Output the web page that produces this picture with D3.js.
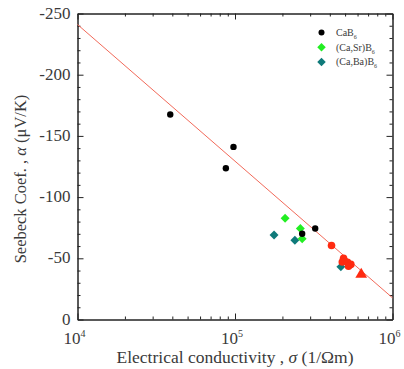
<!DOCTYPE html>
<html><head><meta charset="utf-8">
<script src="https://cdn.jsdelivr.net/npm/d3@7"></script>
<style>body{margin:0;background:#fff}svg{display:block}text{font-family:"Liberation Serif","Times New Roman",serif;fill:#3a3a3a}</style>
</head><body><svg id="c" width="404" height="369"></svg>
<script>
// Data
const caB6X = [3.88e4, 8.75e4, 9.78e4, 2.67e5, 3.23e5];
const caB6Y = [-167.5, -123.6, -141, -70, -74.3];
const caSrX = [2.08e5, 2.6e5, 2.67e5];
const caSrY = [-82.8, -74.3, -65.9];
const caBaX = [1.77e5, 2.4e5, 4.7e5];
const caBaY = [-69.1, -64.8, -43];
const otherX = [4.1e5, 4.89e5, 4.8e5, 5.18e5, 5.44e5, 5.26e5];
const otherY = [-60.4, -50, -47, -46.8, -45, -43.5];
const triX = [6.33e5];
const triY = [-36.8];
const fitX = [1e4, 1e6];
const fitY = [-241, -17.7];
const yTicks = [0, -50, -100, -150, -200, -250];
const xTickExps = [4, 5, 6];
const legendNames = ["CaB", "(Ca,Sr)B", "(Ca,Ba)B"];

const svg = d3.select("#c");
const L = 77.5, R = 392.5, T = 13.5, B = 319.5;
const x = d3.scaleLog().domain([1e4, 1e6]).range([L, R]);
const y = d3.scaleLinear().domain([0, -250]).range([B, T]);

const minorX = [];
for (let d = 1e4; d < 1e6; d *= 10) for (let k = 2; k <= 9; k++) minorX.push(k * d);
const minorY = d3.range(0, -251, -10).filter(v => v % 50 !== 0);

function styleAxis(g) {
  g.select(".domain").attr("stroke", "#222").attr("stroke-width", 1);
  g.selectAll(".tick line").attr("stroke", "#222");
  g.selectAll(".tick text").remove();
}
// bottom
svg.append("g").attr("transform", `translate(0,${B})`)
  .call(d3.axisBottom(x).tickValues(xTickExps.map(e => Math.pow(10, e))).tickSizeInner(-6).tickSizeOuter(0).tickFormat("")).call(styleAxis);
svg.append("g").attr("transform", `translate(0,${B})`)
  .call(d3.axisBottom(x).tickValues(minorX).tickSizeInner(-3).tickSizeOuter(0).tickFormat("")).call(styleAxis);
// top
svg.append("g").attr("transform", `translate(0,${T})`)
  .call(d3.axisTop(x).tickValues(xTickExps.map(e => Math.pow(10, e))).tickSizeInner(-6).tickSizeOuter(0).tickFormat("")).call(styleAxis);
svg.append("g").attr("transform", `translate(0,${T})`)
  .call(d3.axisTop(x).tickValues(minorX).tickSizeInner(-3).tickSizeOuter(0).tickFormat("")).call(styleAxis);
// left
svg.append("g").attr("transform", `translate(${L},0)`)
  .call(d3.axisLeft(y).tickValues(yTicks).tickSizeInner(-6).tickSizeOuter(0).tickFormat("")).call(styleAxis);
svg.append("g").attr("transform", `translate(${L},0)`)
  .call(d3.axisLeft(y).tickValues(minorY).tickSizeInner(-3).tickSizeOuter(0).tickFormat("")).call(styleAxis);
// right
svg.append("g").attr("transform", `translate(${R},0)`)
  .call(d3.axisRight(y).tickValues(yTicks).tickSizeInner(-6).tickSizeOuter(0).tickFormat("")).call(styleAxis);
svg.append("g").attr("transform", `translate(${R},0)`)
  .call(d3.axisRight(y).tickValues(minorY).tickSizeInner(-3).tickSizeOuter(0).tickFormat("")).call(styleAxis);

// y tick labels
svg.append("g").selectAll("text").data(yTicks).join("text")
  .attr("x", L - 7).attr("y", d => y(d) + 5).attr("text-anchor", "end")
  .attr("font-size", 17).text(d => d === 0 ? "0" : "-" + Math.abs(d));
// x tick labels
xTickExps.forEach(e => {
  const t = svg.append("text").attr("x", x(Math.pow(10, e)) - 3).attr("y", 344)
    .attr("text-anchor", "middle").attr("font-size", 17);
  t.append("tspan").text("10");
  t.append("tspan").attr("dy", -7).attr("font-size", 10).text(e);
});
// axis titles
const xt = svg.append("text").attr("x", 235).attr("y", 363).attr("text-anchor", "middle").attr("font-size", 17.5);
xt.append("tspan").text("Electrical conductivity , ");
xt.append("tspan").attr("font-style", "italic").text("σ");
xt.append("tspan").text(" (1/Ωm)");
const yt = svg.append("text").attr("transform", `translate(26,179) rotate(-90)`).attr("text-anchor", "middle").attr("font-size", 16.5);
yt.append("tspan").text("Seebeck Coef. , ");
yt.append("tspan").attr("font-style", "italic").text("α");
yt.append("tspan").text(" (μV/K)");

// fit line
svg.append("path").datum(d3.zip(fitX, fitY))
  .attr("d", d3.line().x(d => x(d[0])).y(d => y(d[1])))
  .attr("stroke", "#f26a5a").attr("stroke-width", 1).attr("fill", "none");

const diamond = d3.symbol().type(d3.symbolSquare).size(40);
// teal
svg.append("g").selectAll("path").data(d3.zip(caBaX, caBaY)).join("path")
  .attr("d", diamond).attr("transform", d => `translate(${x(d[0])},${y(d[1])}) rotate(45)`).attr("fill", "#0f7a7a");
// green
svg.append("g").selectAll("path").data(d3.zip(caSrX, caSrY)).join("path")
  .attr("d", diamond).attr("transform", d => `translate(${x(d[0])},${y(d[1])}) rotate(45)`).attr("fill", "#22ee22");
// black
svg.append("g").selectAll("circle").data(d3.zip(caB6X, caB6Y)).join("circle")
  .attr("cx", d => x(d[0])).attr("cy", d => y(d[1])).attr("r", 3.2).attr("fill", "#000");
// red circles
svg.append("g").selectAll("circle").data(d3.zip(otherX, otherY)).join("circle")
  .attr("cx", d => x(d[0])).attr("cy", d => y(d[1])).attr("r", 3.8).attr("fill", "#ff2a10");
// red triangle
svg.append("g").selectAll("path").data(d3.zip(triX, triY)).join("path")
  .attr("d", d3.symbol().type(d3.symbolTriangle).size(60))
  .attr("transform", d => `translate(${x(d[0])},${y(d[1])})`).attr("fill", "#ff2a10");

// legend
const legColors = ["#000", "#22ee22", "#0f7a7a"];
const lg = svg.append("g");
legendNames.forEach((n, i) => {
  const cy = 32.5 + i * 14.7;
  if (i === 0) lg.append("circle").attr("cx", 321.5).attr("cy", cy).attr("r", 3).attr("fill", legColors[i]);
  else lg.append("path").attr("d", d3.symbol().type(d3.symbolSquare).size(36)).attr("transform", `translate(321.5,${cy}) rotate(45)`).attr("fill", legColors[i]);
  const t = lg.append("text").attr("x", 336).attr("y", cy + 3.5).attr("font-size", 10);
  t.append("tspan").text(n);
  t.append("tspan").attr("dy", 3).attr("font-size", 6).text("6");
});
</script></body></html>
